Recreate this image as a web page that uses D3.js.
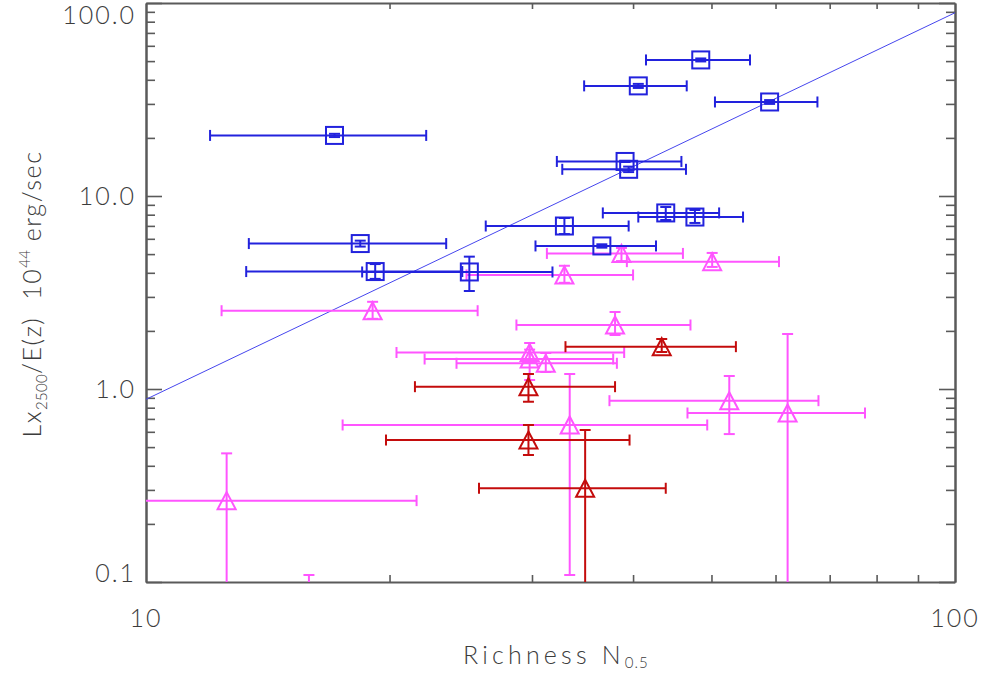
<!DOCTYPE html>
<html>
<head>
<meta charset="utf-8">
<script src="https://cdn.jsdelivr.net/npm/d3@7"></script>
<style>
  html, body { margin: 0; padding: 0; background: #fff; }
  svg { display: block; }
  text { font-family: Lato, "DejaVu Sans", sans-serif; font-weight: 300; fill: #3c3c3c; }
</style>
</head>
<body>
<svg id="chart" width="985" height="673"></svg>
<script>
// ---- Data: richness N0.5 and Lx(2500)/E(z) in 1e44 erg/s, with error ranges ----
// Blue squares
const blueN   = [48.5, 40.6, 59.0, 17.1, 39.1, 39.5, 43.9, 47.7, 32.9, 36.6, 18.4, 19.2, 25.1];
const blueNLo = [41.5, 34.8, 50.5, 12.0, 32.2, 32.7, 36.7, 40.6, 26.3, 30.3, 13.4, 13.3, 18.5];
const blueNHi = [55.8, 46.6, 67.6, 22.2, 45.9, 46.5, 51.1, 54.7, 39.5, 42.7, 23.5, 24.6, 31.8];
const blueL   = [50.7, 37.2, 30.7, 20.6, 15.1, 13.75, 8.17, 7.78, 6.99, 5.51, 5.67, 4.06, 4.04];
const blueLLo = [49.8, 36.3, 30.0, 20.2, 15.0, 13.3, 7.51, 7.25, 6.35, 5.40, 5.47, 3.72, 3.22];
const blueLHi = [51.6, 38.1, 31.4, 21.0, 15.2, 14.2, 8.77, 8.46, 7.69, 5.62, 5.87, 4.44, 4.85];

// Magenta triangles
const magN   = [12.58, 15.9, 19.06, 32.9, 38.7, 50.1, 38.0, 29.8, 29.8, 31.2, 33.4, 52.6, 62.1];
const magNLo = [8.0, 13.0, 12.4, 24.9, 31.3, 39.3, 28.7, 20.4, 22.1, 24.2, 17.5, 37.4, 46.7];
const magNHi = [21.6, 19.5, 25.7, 40.0, 46.1, 60.6, 47.1, 39.0, 37.8, 38.2, 49.4, 67.8, 77.4];
const magL   = [0.264, 0.085, 2.545, 3.90, 5.04, 4.57, 2.146, 1.546, 1.43, 1.359, 0.651, 0.870, 0.751];
const magLLo = [0.05, 0.06, 2.31, 3.55, 4.60, 4.29, 1.905, 1.38, 1.113, 1.225, 0.1087, 0.584, 0.05];
const magLHi = [0.464, 0.1087, 2.83, 4.35, 5.38, 5.07, 2.506, 1.731, 1.60, 1.537, 1.196, 1.168, 1.928];

// Dark red triangles
const redN   = [43.4, 29.7, 29.7, 34.9];
const redNLo = [33.0, 21.5, 19.8, 25.8];
const redNHi = [53.6, 38.0, 39.6, 43.9];
const redL   = [1.657, 1.028, 0.544, 0.306];
const redLLo = [1.555, 0.859, 0.455, 0.05];
const redLHi = [1.816, 1.196, 0.651, 0.613];

// Fitted power-law relation, end points across the plotted range
const fitN = [10, 100];
const fitL = [0.884, 89];

// Axis tick labels
const xTickValues = [10, 100];
const xTickLabels = ["10", "100"];
const yTickValues = [0.1, 1, 10, 100];
const yTickLabels = ["0.1", "1.0", "10.0", "100.0"];

// ---- Layout ----
const plotLeft = 146, plotRight = 955, plotTop = 3, plotBottom = 582;
const axisColor = "#5a5a5a";
const BLUE = "#2222dd", MAGENTA = "#ff55ff", RED = "#c40c0c";

const svg = d3.select("#chart");
const x = d3.scaleLog().domain([10, 100]).range([plotLeft, plotRight]);
const y = d3.scaleLog().domain([0.1, 100]).range([plotBottom, plotTop]);

// minor tick positions: 2..9 within each decade
const xMinor = d3.range(2, 10).map(k => k * 10);
const yMinor = [];
[0.1, 1, 10].forEach(d => d3.range(2, 10).forEach(k => yMinor.push(d * k)));

function styleAxis(g) {
  g.selectAll("path.domain").attr("stroke", axisColor).attr("stroke-width", 2);
  g.selectAll(".tick line").attr("stroke", axisColor).attr("stroke-width", 1.6);
  g.selectAll(".tick text").remove();
}

// left axis
svg.append("g").attr("transform", `translate(${plotLeft},0)`)
  .call(d3.axisLeft(y).tickValues(yMinor).tickSize(-9).tickSizeOuter(0).tickFormat(""))
  .call(styleAxis);
svg.append("g").attr("transform", `translate(${plotLeft},0)`)
  .call(d3.axisLeft(y).tickValues(yTickValues).tickSize(-16).tickSizeOuter(0).tickFormat(""))
  .call(styleAxis);
// right axis
svg.append("g").attr("transform", `translate(${plotRight},0)`)
  .call(d3.axisRight(y).tickValues(yMinor).tickSize(-9).tickSizeOuter(0).tickFormat(""))
  .call(styleAxis);
svg.append("g").attr("transform", `translate(${plotRight},0)`)
  .call(d3.axisRight(y).tickValues(yTickValues).tickSize(-16).tickSizeOuter(0).tickFormat(""))
  .call(styleAxis);
// bottom axis
svg.append("g").attr("transform", `translate(0,${plotBottom})`)
  .call(d3.axisBottom(x).tickValues(xMinor).tickSize(-7).tickSizeOuter(0).tickFormat(""))
  .call(styleAxis);
// top axis
svg.append("g").attr("transform", `translate(0,${plotTop})`)
  .call(d3.axisTop(x).tickValues(xMinor).tickSize(-6).tickSizeOuter(0).tickFormat(""))
  .call(styleAxis);

// tick labels (end labels kept inside the frame height)
const FS = 25;
svg.append("g").selectAll("text").data(yTickValues).join("text")
  .attr("x", 136)
  .attr("y", d => Math.min(Math.max(y(d), plotTop + 12), plotBottom - 9))
  .attr("dy", "0.36em")
  .attr("text-anchor", "end")
  .attr("font-size", FS)
  .attr("letter-spacing", 2)
  .text((d, i) => yTickLabels[i]);

svg.append("g").selectAll("text").data(xTickValues).join("text")
  .attr("x", d => x(d))
  .attr("y", 627)
  .attr("text-anchor", "middle")
  .attr("font-size", FS)
  .attr("letter-spacing", 2)
  .text((d, i) => xTickLabels[i]);

// axis titles
const xt = svg.append("text").attr("x", 463).attr("y", 664)
  .attr("font-size", FS).attr("letter-spacing", 4.2);
xt.append("tspan").text("Richness N");
xt.append("tspan").attr("font-size", 15).attr("dy", 4).attr("letter-spacing", 1).text("0.5");

const yt = svg.append("text")
  .attr("transform", "translate(41,294) rotate(-90)")
  .attr("text-anchor", "middle")
  .attr("font-size", FS).attr("letter-spacing", 1.6)
  .style("white-space", "pre");
yt.append("tspan").text("Lx");
yt.append("tspan").attr("font-size", 15).attr("dy", 6).attr("letter-spacing", 0.3).text("2500");
yt.append("tspan").attr("dy", -6).text("/E(z)  10");
yt.append("tspan").attr("font-size", 15).attr("dy", -11).attr("letter-spacing", 0.3).text("44");
yt.append("tspan").attr("dy", 11).text(" erg/sec");

// ---- Plot area contents, clipped to the frame ----
svg.append("clipPath").attr("id", "plotclip")
  .append("rect").attr("x", plotLeft).attr("y", plotTop)
  .attr("width", plotRight - plotLeft).attr("height", plotBottom - plotTop);
const plot = svg.append("g").attr("clip-path", "url(#plotclip)");

// fit line
plot.append("path")
  .datum(fitN.map((n, i) => [n, fitL[i]]))
  .attr("fill", "none")
  .attr("stroke", "#4646ee")
  .attr("stroke-width", 1)
  .attr("d", d3.line().x(d => x(d[0])).y(d => y(d[1])));

function drawSeries(N, NLo, NHi, L, LLo, LHi, color, shape) {
  const rows = N.map((n, i) => ({ n, nlo: NLo[i], nhi: NHi[i], l: L[i], llo: LLo[i], lhi: LHi[i] }));
  const g = plot.append("g").attr("stroke", color).attr("fill", "none").attr("stroke-width", 2);
  const capH = 5.5, capW = 5.5;
  rows.forEach(r => {
    const cx = x(r.n), cy = y(r.l);
    const pg = g.append("g");
    // horizontal error bar with end caps
    pg.append("line").attr("x1", x(r.nlo)).attr("x2", x(r.nhi)).attr("y1", cy).attr("y2", cy);
    pg.append("line").attr("x1", x(r.nlo)).attr("x2", x(r.nlo)).attr("y1", cy - capH).attr("y2", cy + capH);
    pg.append("line").attr("x1", x(r.nhi)).attr("x2", x(r.nhi)).attr("y1", cy - capH).attr("y2", cy + capH);
    // vertical error bar with end caps
    pg.append("line").attr("x1", cx).attr("x2", cx).attr("y1", y(r.llo)).attr("y2", y(r.lhi));
    pg.append("line").attr("x1", cx - capW).attr("x2", cx + capW).attr("y1", y(r.llo)).attr("y2", y(r.llo));
    pg.append("line").attr("x1", cx - capW).attr("x2", cx + capW).attr("y1", y(r.lhi)).attr("y2", y(r.lhi));
    // marker
    if (shape === "square") {
      pg.append("rect").attr("x", cx - 8.5).attr("y", cy - 8.5).attr("width", 17).attr("height", 17);
    } else {
      pg.append("path").attr("d", `M${cx},${cy - 8.5} L${cx + 9},${cy + 8.5} L${cx - 9},${cy + 8.5} Z`);
    }
  });
}

drawSeries(magN, magNLo, magNHi, magL, magLLo, magLHi, MAGENTA, "triangle");
drawSeries(redN, redNLo, redNHi, redL, redLLo, redLHi, RED, "triangle");
drawSeries(blueN, blueNLo, blueNHi, blueL, blueLLo, blueLHi, BLUE, "square");
</script>
</body>
</html>
